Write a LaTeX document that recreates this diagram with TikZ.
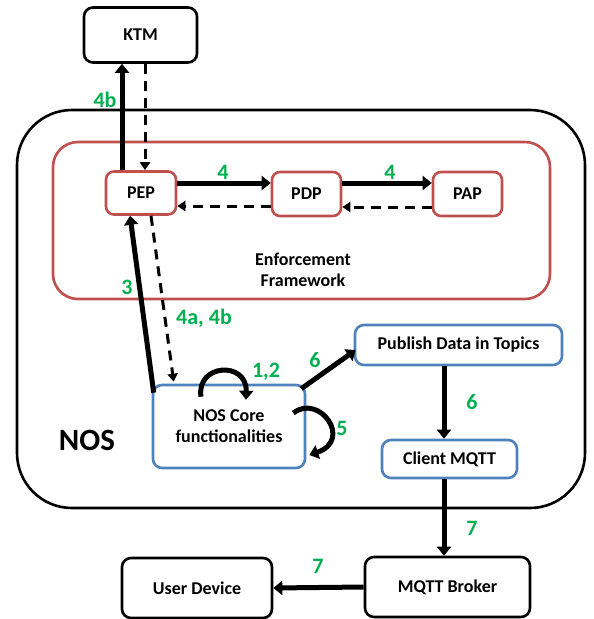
\documentclass[tikz,border=0pt]{standalone}
\usepackage{fontspec}
\setmainfont{Carlito}
\usetikzlibrary{arrows.meta,calc}
\definecolor{efred}{HTML}{C0504D}
\definecolor{nosblue}{HTML}{4F81BD}
\definecolor{lblgreen}{HTML}{00B050}
\begin{document}
\begin{tikzpicture}[x=1pt,y=-1pt,
  font=\bfseries\fontsize{18}{21}\selectfont,
  blackbox/.style={draw=black,line width=2.6pt,rounded corners=9pt,fill=white,inner sep=0pt,align=center},
  redbox/.style={draw=efred,line width=2.6pt,rounded corners=8pt,fill=white,inner sep=0pt,align=center},
  bluebox/.style={draw=nosblue,line width=2.6pt,rounded corners=9pt,fill=white,inner sep=0pt,align=center},
  solidarrow/.style={line width=5pt,-{Triangle[width=14pt,length=9pt]}},
  dasharrow/.style={line width=3pt,dash pattern=on 10pt off 7pt,-{Triangle[width=10pt,length=8pt]}},
  lbl/.style={text=lblgreen,font=\bfseries\fontsize{22}{24}\selectfont,inner sep=0pt}
]
\useasboundingbox (0,0) rectangle (594,619);
% containers
\draw[line width=2.6pt,rounded corners=55pt] (17,110) rectangle (585,508);
\draw[efred,line width=2.6pt,rounded corners=25pt] (53,142) rectangle (550,299);
\node[font=\bfseries\fontsize{31}{33}\selectfont,inner sep=0pt] (nos) at (87,440) {NOS};
\node[align=center,inner sep=0pt] (ef) at (303,270) {Enforcement\\Framework};

% nodes
\node[blackbox,minimum width=113pt,minimum height=55pt] (ktm) at (140.5,35) {KTM};
\node[redbox,minimum width=70pt,minimum height=43pt] (pep) at (141,193) {PEP};
\node[redbox,minimum width=69pt,minimum height=44pt] (pdp) at (306.5,194) {PDP};
\node[redbox,minimum width=69pt,minimum height=44pt] (pap) at (467.5,194) {PAP};
\node[bluebox,minimum width=152pt,minimum height=83pt] (core) at (229,426.5) {NOS Core\\functionalities};
\node[bluebox,minimum width=207pt,minimum height=40pt] (pub) at (458.5,345) {Publish Data in Topics};
\node[bluebox,minimum width=135pt,minimum height=38pt] (client) at (449.5,459) {Client MQTT};
\node[blackbox,minimum width=165pt,minimum height=60pt] (broker) at (447.5,587) {MQTT Broker};
\node[blackbox,minimum width=150pt,minimum height=60pt] (user) at (197,588) {User Device};

% KTM arrows
\draw[solidarrow] ([xshift=-19pt]pep.north) -- ([xshift=-19pt]pep.north |- ktm.south);
\draw[dasharrow] ([xshift=4.5pt]ktm.south) -- ([xshift=4.5pt]ktm.south |- pep.north);
% PEP - PDP - PAP
\draw[solidarrow] ([yshift=10pt]pep.east) -- ([yshift=10pt]pep.east -| pdp.west);
\draw[dasharrow] ([yshift=-12pt]pdp.west) -- ([yshift=-12pt]pdp.west -| pep.east);
\draw[solidarrow] ([yshift=11pt]pdp.east) -- ([yshift=11pt]pdp.east -| pap.west);
\draw[dasharrow] ([yshift=-13pt]pap.west) -- ([yshift=-13pt]pap.west -| pdp.east);
% PEP - Core
\draw[solidarrow] ($(core.north west)+(2,9)$) -- ($(pep.south)+(-11,0)$);
\draw[dasharrow] ($(pep.south)+(10,0)$) -- ($(core.north west)+(22,-2)$);
% loops
\draw[solidarrow] ($(core.north)+(-28,13)$) .. controls ($(core.north)+(-33,-20)$) and ($(core.north)+(18,-23)$) .. ($(core.north)+(17,16)$);
\draw[solidarrow] ($(core.east)+(-13,-13.5)$) .. controls ($(core.east)+(13,-33.5)$) and ($(core.east)+(47,13.5)$) .. ($(core.east)+(3,28.5)$);
% to publish and below
\draw[solidarrow] ($(core.north east)+(-5,5)$) -- ($(pub.west)+(2,5)$);
\draw[solidarrow] ([xshift=-5.5pt]client.north |- pub.south) -- ([xshift=-5.5pt]client.north);
\draw[solidarrow] ([xshift=-5.5pt]client.south) -- ([xshift=-5.5pt]client.south |- broker.north);
\draw[solidarrow] (broker.west) -- (user.east);

% labels
\node[lbl] (l4b) at (105,100) {4b};
\node[lbl] (l4a) at (223,172) {4};
\node[lbl] (l4c) at (390,172) {4};
\node[lbl] (l3) at (127,287) {3};
\node[lbl] (l4ab) at (204,318) {4a, 4b};
\node[lbl] (l12) at (266,372) {1,2};
\node[lbl] (l6a) at (315,360) {6};
\node[lbl] (l5) at (342,428) {5};
\node[lbl] (l6b) at (472,402) {6};
\node[lbl] (l7a) at (472,528) {7};
\node[lbl] (l7b) at (318,566) {7};
\end{tikzpicture}
\end{document}
